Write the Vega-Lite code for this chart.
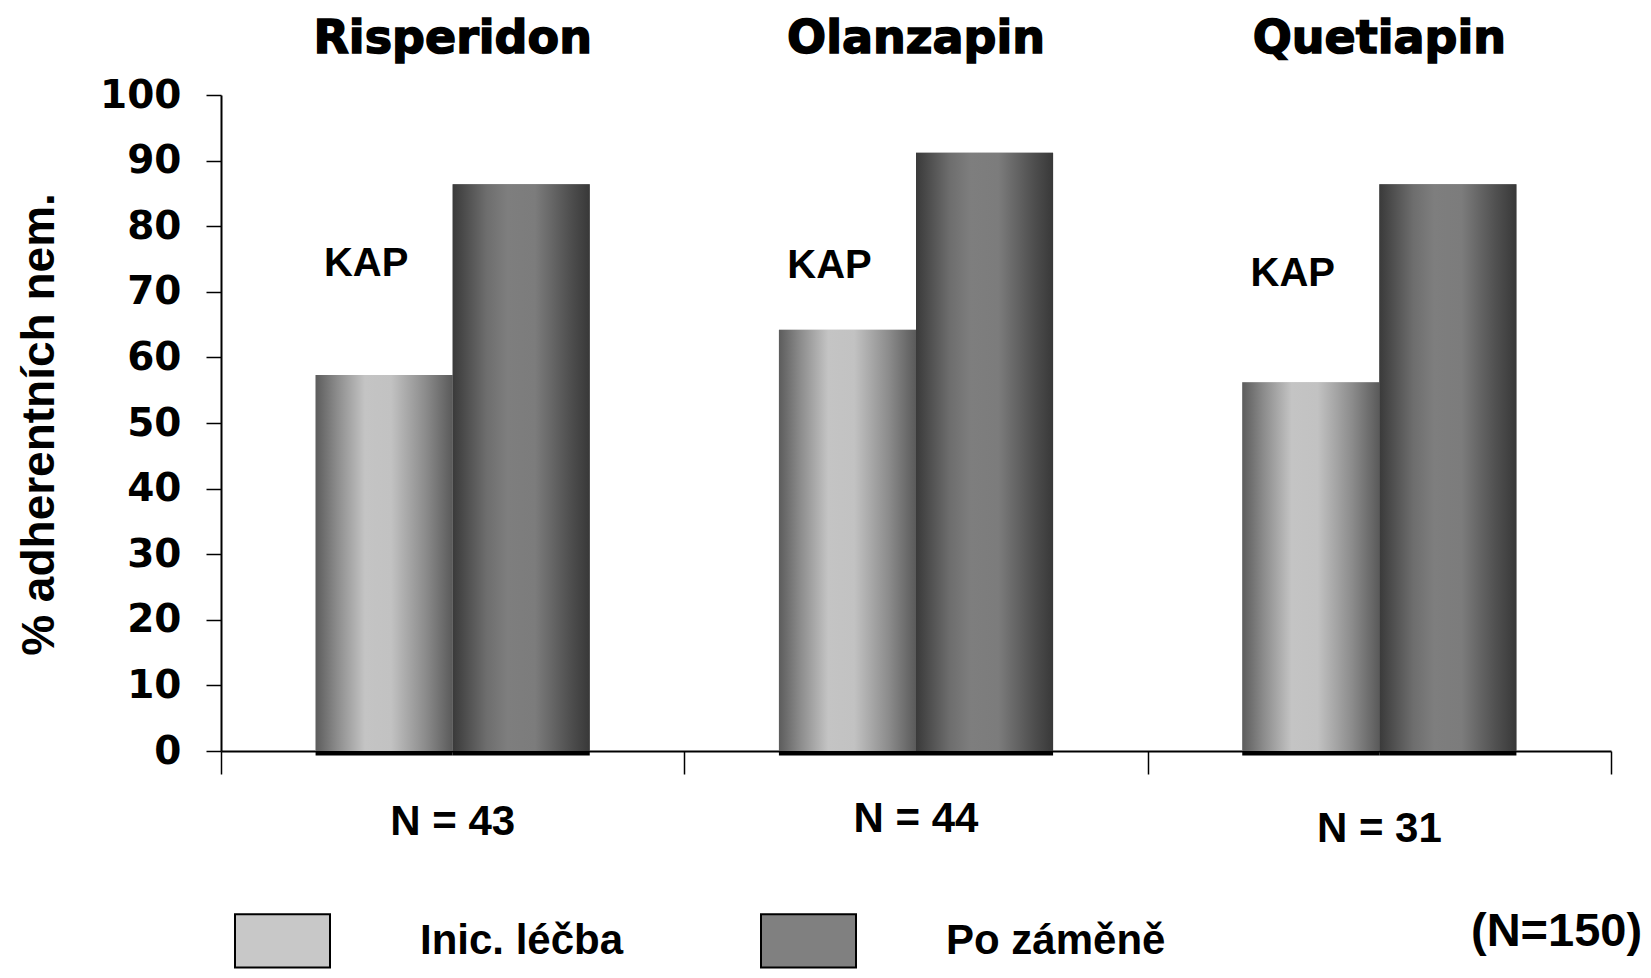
{
  "$schema": "https://vega.github.io/schema/vega-lite/v6.json",
  "autosize": {"type": "none"},
  "width": 1390,
  "height": 656,
  "padding": {"left": 221, "top": 95, "right": 40, "bottom": 227},
  "background": "white",
  "config": {"view": {"stroke": null}},
  "datasets": {
    "bars": [
      {"drug": "Risperidon", "treatment": "Inic. léčba", "value": 57.3},
      {"drug": "Risperidon", "treatment": "Po záměně", "value": 86.4},
      {"drug": "Olanzapin", "treatment": "Inic. léčba", "value": 64.2},
      {"drug": "Olanzapin", "treatment": "Po záměně", "value": 91.2},
      {"drug": "Quetiapin", "treatment": "Inic. léčba", "value": 56.2},
      {"drug": "Quetiapin", "treatment": "Po záměně", "value": 86.4}
    ],
    "kap": [
      {"drug": "Risperidon", "treatment": "Inic. léčba", "label": "KAP", "y": 74.2},
      {"drug": "Olanzapin", "treatment": "Inic. léčba", "label": "KAP", "y": 74.0},
      {"drug": "Quetiapin", "treatment": "Inic. léčba", "label": "KAP", "y": 72.7}
    ],
    "nlab": [
      {"drug": "Risperidon", "label": "N = 43", "y": -10.75},
      {"drug": "Olanzapin", "label": "N = 44", "y": -10.3},
      {"drug": "Quetiapin", "label": "N = 31", "y": -11.9}
    ],
    "titles": [
      {"drug": "Risperidon", "y": 108.5},
      {"drug": "Olanzapin", "y": 108.5},
      {"drug": "Quetiapin", "y": 108.5}
    ]
  },
  "encoding": {
    "x": {"field": "drug", "type": "nominal", "sort": ["Risperidon", "Olanzapin", "Quetiapin"],
          "scale": {"paddingInner": 0, "paddingOuter": 0},
          "axis": {"labels": false, "title": null, "domainColor": "black", "domainWidth": 2, "tickColor": "black", "tickWidth": 1.5, "tickSize": 23, "tickBand": "extent"}}
  },
  "layer": [
    {
      "data": {"name": "bars"},
      "mark": {"type": "bar"},
      "encoding": {
        "xOffset": {"field": "treatment", "type": "nominal", "scale": {"domain": ["Inic. léčba", "Po záměně"], "paddingInner": 0, "paddingOuter": 0.69}},
        "y": {"field": "value", "type": "quantitative", "scale": {"domain": [0, 100], "nice": false},
              "axis": {"values": [0, 10, 20, 30, 40, 50, 60, 70, 80, 90, 100], "grid": false, "title": "% adherentních nem.",
                       "titleFont": "Liberation Sans", "titleFontWeight": "bold", "titleFontSize": 46, "titleColor": "black",
                       "titleX": -182, "titleY": 329, "titleAngle": -90, "titleAlign": "center", "titleBaseline": "middle",
                       "labelFont": "DejaVu Sans", "labelFontWeight": "bold", "labelFontSize": 39, "labelColor": "black",
                       "labelPadding": 25, "tickSize": 15, "tickColor": "black", "tickWidth": 1.5, "domainColor": "black", "domainWidth": 2}},
        "color": {"field": "treatment", "type": "nominal", "scale": {"domain": ["Inic. léčba", "Po záměně"], "range": ["#c8c8c8", "#808080"]},
                  "legend": {"orient": "none", "legendX": 13, "legendY": 797, "direction": "horizontal",
                             "title": "(N=150)", "titleOrient": "right", "titlePadding": 306, "titleAnchor": "middle", "titleBaseline": "middle",
                             "titleFont": "Liberation Sans", "titleFontWeight": "bold", "titleFontSize": 47, "titleColor": "black", "titleLimit": 400,
                             "symbolType": "M-1,-0.56H1V0.56H-1Z", "symbolSize": 9025, "symbolStrokeColor": "black", "symbolStrokeWidth": 2, "symbolOpacity": 1,
                             "labelFont": "Liberation Sans", "labelFontWeight": "bold", "labelFontSize": 42, "labelColor": "black",
                             "labelExpr": "indexof(datum.label, 'Po') === 0 ? '\u2002\u2002' + datum.label : datum.label",
                             "labelOffset": 89, "columnPadding": 133, "padding": 0, "labelLimit": 500}}
      }
    },
    {
      "data": {"name": "bars"},
      "transform": [{"filter": "datum.treatment === 'Inic. léčba'"}],
      "mark": {"type": "bar", "fill": {"gradient": "linear", "x1": 0, "y1": 0, "x2": 1, "y2": 0,
        "stops": [{"offset": 0, "color": "#5c5c5c"}, {"offset": 0.15, "color": "#8a8a8a"}, {"offset": 0.36, "color": "#c4c4c4"}, {"offset": 0.55, "color": "#c2c2c2"}, {"offset": 0.8, "color": "#8c8c8c"}, {"offset": 1, "color": "#5a5a5a"}]}},
      "encoding": {
        "xOffset": {"field": "treatment", "type": "nominal"},
        "y": {"field": "value", "type": "quantitative"}
      }
    },
    {
      "data": {"name": "bars"},
      "transform": [{"filter": "datum.treatment === 'Po záměně'"}],
      "mark": {"type": "bar", "fill": {"gradient": "linear", "x1": 0, "y1": 0, "x2": 1, "y2": 0,
        "stops": [{"offset": 0, "color": "#3a3a3a"}, {"offset": 0.25, "color": "#6e6e6e"}, {"offset": 0.4, "color": "#7e7e7e"}, {"offset": 0.6, "color": "#7c7c7c"}, {"offset": 0.85, "color": "#505050"}, {"offset": 1, "color": "#383838"}]}},
      "encoding": {
        "xOffset": {"field": "treatment", "type": "nominal"},
        "y": {"field": "value", "type": "quantitative"}
      }
    },
    {
      "data": {"name": "bars"},
      "mark": {"type": "bar", "color": "black"},
      "encoding": {
        "xOffset": {"field": "treatment", "type": "nominal"},
        "y": {"datum": 0, "type": "quantitative"},
        "y2": {"datum": -0.7}
      }
    },
    {
      "data": {"name": "kap"},
      "mark": {"type": "text", "font": "Liberation Sans", "fontWeight": "bold", "fontSize": 40, "color": "black", "baseline": "middle", "dx": -18},
      "encoding": {
        "xOffset": {"field": "treatment", "type": "nominal"},
        "y": {"field": "y", "type": "quantitative"},
        "text": {"field": "label"}
      }
    },
    {
      "data": {"name": "nlab"},
      "mark": {"type": "text", "font": "Liberation Sans", "fontWeight": "bold", "fontSize": 42, "color": "black", "baseline": "middle"},
      "encoding": {
        "y": {"field": "y", "type": "quantitative"},
        "text": {"field": "label"}
      }
    },
    {
      "data": {"name": "titles"},
      "mark": {"type": "text", "font": "DejaVu Sans", "fontWeight": "bold", "fontSize": 46, "color": "black", "baseline": "middle", "stroke": "black", "strokeWidth": 1.5},
      "encoding": {
        "y": {"field": "y", "type": "quantitative"},
        "text": {"field": "drug"}
      }
    }
  ]
}
